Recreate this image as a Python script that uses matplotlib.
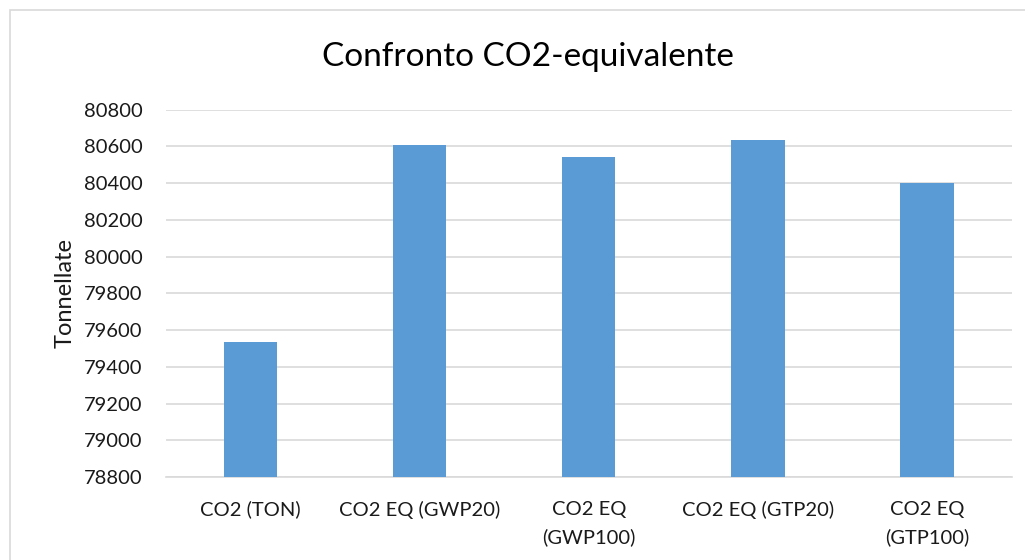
import matplotlib.pyplot as plt
from matplotlib.patches import Rectangle

categories = ["CO2 (TON)", "CO2 EQ (GWP20)", "CO2 EQ\n(GWP100)", "CO2 EQ (GTP20)", "CO2 EQ\n(GTP100)"]
values = [79535, 80609, 80545, 80636, 80403]
yticks = list(range(78800, 80801, 200))

plt.rcParams['font.family'] = ['Lato', 'DejaVu Sans']

fig = plt.figure(figsize=(10.25, 5.6), dpi=100)
ax = fig.add_axes([0.162, 0.148, 0.825, 0.656])

# bordo esterno del grafico
fig.patches.append(Rectangle((10 / 1025, -0.1), 1.2, 1.1 - 10 / 560, transform=fig.transFigure,
                             fill=False, edgecolor='#d9d9d9', linewidth=1.2))

x = range(len(categories))
ax.bar(x, values, width=0.315, color='#5b9bd5', zorder=3)

ax.set_ylim(78800, 80800)
ax.set_xlim(-0.5, len(categories) - 0.5)
ax.set_yticks(yticks)
ax.set_yticklabels([str(v) for v in yticks], fontsize=14.5, color='#1a1a1a')
ax.set_xticks(list(x))
ax.set_xticklabels(categories, fontsize=14.5, color='#1a1a1a', linespacing=1.7)
ax.tick_params(axis='both', length=0)
ax.tick_params(axis='y', pad=17)
ax.tick_params(axis='x', pad=17)

ax.grid(axis='y', color='#d9d9d9', linewidth=1.2, zorder=0)
for s in ['top', 'right', 'left']:
    ax.spines[s].set_visible(False)
ax.spines['bottom'].set_color('#d9d9d9')
ax.spines['bottom'].set_linewidth(1.2)

ax.set_ylabel("Tonnellate", fontsize=17, color='#1a1a1a', labelpad=6)
fig.text(0.515, 0.898, "Confronto CO2-equivalente", ha='center', va='center', fontsize=24, color='#000000')

fig.savefig("out.png", dpi=100)
